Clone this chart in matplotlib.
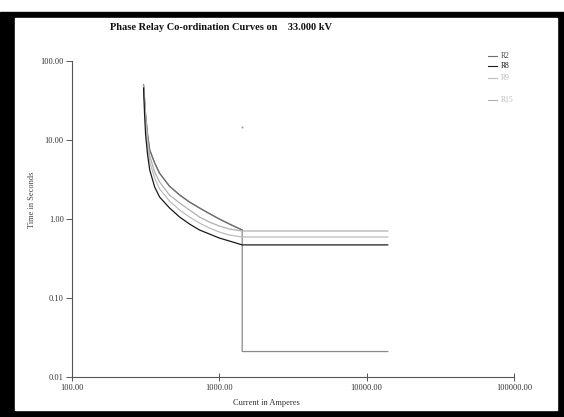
import matplotlib
matplotlib.use('Agg')
import matplotlib.pyplot as plt
from matplotlib.patches import Rectangle
from matplotlib.lines import Line2D
from matplotlib.ticker import FixedLocator, FormatStrFormatter, NullLocator

plt.rcParams['font.family'] = ['Liberation Serif', 'DejaVu Serif']

# current (A) and operating time (s)
amps = [306, 316, 326, 337, 364, 393, 459, 537, 627, 733, 856, 1000, 1168, 1430]
amps_r8 = [306, 311, 316, 326, 337, 364, 393, 459, 537, 627, 733, 856, 1000, 1168, 1430]

t_r2 = [49.7, 20.7, 11.6, 7.47, 5.12, 3.80, 2.60, 2.02, 1.64, 1.38, 1.17, 1.0, 0.865, 0.726]
t_r15 = [48.3, 19.0, 10.0, 6.27, 3.93, 2.94, 2.01, 1.60, 1.30, 1.06, 0.916, 0.815, 0.747, 0.705]
t_r9 = [46.9, 17.9, 8.65, 5.27, 3.30, 2.40, 1.69, 1.30, 1.06, 0.89, 0.769, 0.684, 0.627, 0.592]
t_r8 = [45.5, 20.7, 11.6, 6.46, 4.17, 2.54, 1.90, 1.38, 1.06, 0.865, 0.726, 0.646, 0.574, 0.527, 0.47]

# definite time / instantaneous parts
i_end = 13900
t_inst = 0.021
dot_i, dot_t = 1430, 14.6

names = ['R2', 'R8', 'R9', 'R15']
colors = ['#6e6e6e', '#1a1a1a', '#bdbdbd', '#b0b0b0']

fig = plt.figure(figsize=(5.64, 4.17), dpi=100)
W, H = 564.0, 417.0

# screenshot frame
fig.patches.append(Rectangle((0, 0), 1, (H - 12) / H, transform=fig.transFigure,
                             color='black', zorder=0))
fig.patches.append(Rectangle((15 / W, 7 / H), (557 - 15) / W, (410 - 18) / H,
                             transform=fig.transFigure, color='white', zorder=0.5))

ax = fig.add_axes([72 / W, (H - 377) / H, (514 - 72) / W, (377 - 61) / H])
ax.set_zorder(2)
ax.set_facecolor('none')
ax.set_xscale('log')
ax.set_yscale('log')
ax.set_xlim(100, 100000)
ax.set_ylim(0.01, 100)

lw = 0.9
# R2 with instantaneous drop
ax.plot(amps + [amps[-1], i_end], t_r2 + [t_inst, t_inst], color='#8a8a8a', lw=lw)
ax.plot(amps, t_r2, color=colors[0], lw=lw)
ax.plot(amps + [i_end], t_r15 + [t_r15[-1]], color=colors[3], lw=lw)
ax.plot(amps + [i_end], t_r9 + [t_r9[-1]], color=colors[2], lw=lw)
ax.plot(amps_r8 + [i_end], t_r8 + [t_r8[-1]], color=colors[1], lw=lw)
ax.plot([dot_i], [dot_t], 's', ms=1.3, color='#999999', mec='none')

for s in ['top', 'right']:
    ax.spines[s].set_visible(False)
for s in ['left', 'bottom']:
    ax.spines[s].set_color('#555555')
    ax.spines[s].set_linewidth(0.8)

ax.xaxis.set_major_locator(FixedLocator([100, 1000, 10000, 100000]))
ax.yaxis.set_major_locator(FixedLocator([0.01, 0.1, 1, 10, 100]))
ax.xaxis.set_minor_locator(NullLocator())
ax.yaxis.set_minor_locator(NullLocator())
ax.xaxis.set_major_formatter(FormatStrFormatter('%.2f'))
ax.yaxis.set_major_formatter(FormatStrFormatter('%.2f'))
ax.tick_params(axis='x', direction='inout', length=6, width=0.7, color='#555555',
               labelsize=6, labelcolor='#333333', pad=2)
ax.tick_params(axis='y', direction='out', length=4, width=0.7, color='#555555',
               labelsize=6, labelcolor='#333333', pad=2)

fig.text(221 / W, 1 - 27 / H, 'Phase Relay Co-ordination Curves on    33.000 kV',
         ha='center', va='center', fontsize=7.5, fontweight='bold', color='#111111')
fig.text(266 / W, 1 - 403 / H, 'Current in Amperes', ha='center', va='center',
         fontsize=6, color='#333333')
fig.text(32 / W, 1 - 200 / H, 'Time in Seconds', ha='center', va='center',
         rotation=90, fontsize=6, color='#444444')

# legend
leg_y = [56, 66, 78, 100]
leg_text = ['#444444', '#111111', '#bbbbbb', '#bbbbbb']
for n, c, tc, y in zip(names, colors, leg_text, leg_y):
    fig.add_artist(Line2D([488 / W, 497 / W], [1 - y / H, 1 - y / H], color=c,
                          lw=0.8, transform=fig.transFigure))
    fig.text(501 / W, 1 - y / H, n, ha='left', va='center', fontsize=5.5, color=tc)

fig.savefig('out.png', dpi=100)
